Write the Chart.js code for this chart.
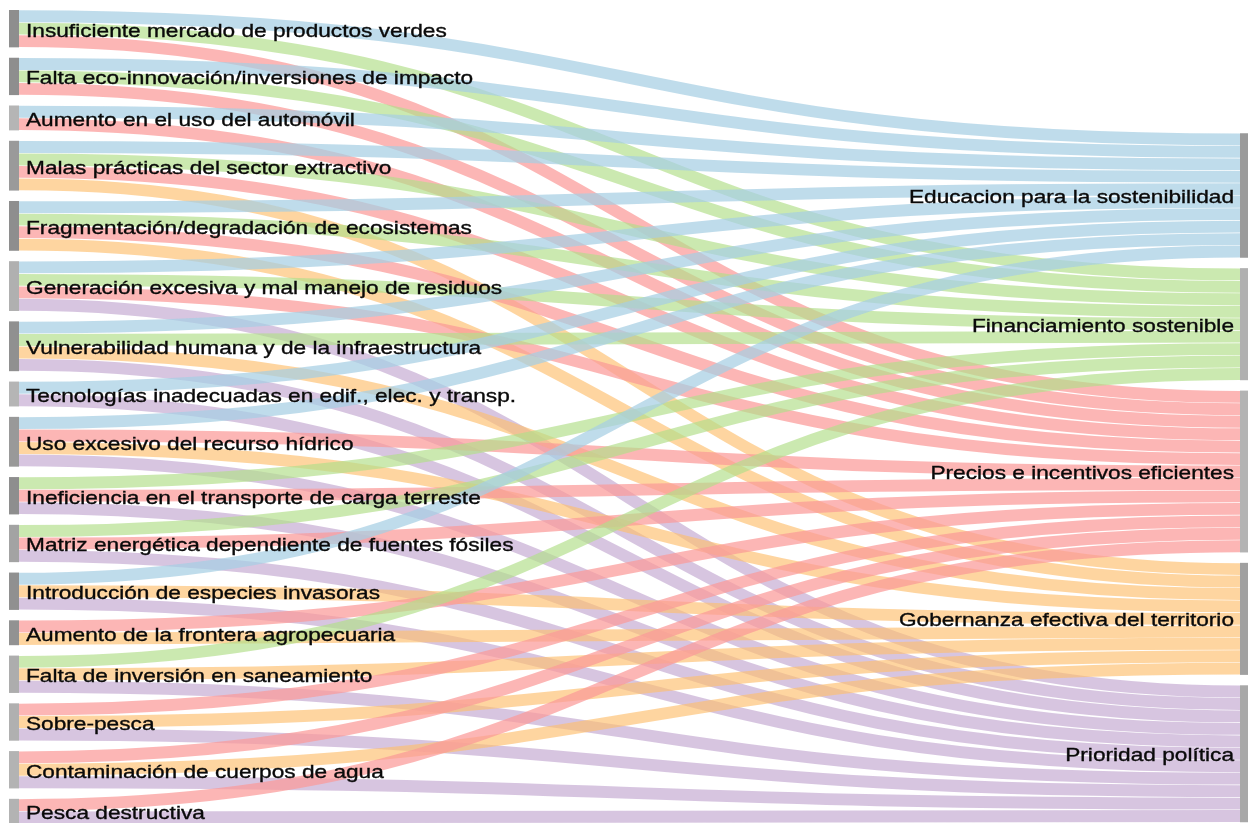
<!DOCTYPE html>
<html><head><meta charset="utf-8">
<script src="https://cdn.jsdelivr.net/npm/chart.js@4/dist/chart.umd.min.js"></script>
<style>html,body{margin:0;padding:0;background:#fff;overflow:hidden}</style>
</head><body>
<canvas id="c" width="1249" height="823"></canvas>
<script>
// ---- DATA ----
const problems = [
  "Insuficiente mercado de productos verdes",
  "Falta eco-innovación/inversiones de impacto",
  "Aumento en el uso del automóvil",
  "Malas prácticas del sector extractivo",
  "Fragmentación/degradación de ecosistemas",
  "Generación excesiva y mal manejo de residuos",
  "Vulnerabilidad humana y de la infraestructura",
  "Tecnologías inadecuadas en edif., elec. y transp.",
  "Uso excesivo del recurso hídrico",
  "Ineficiencia en el transporte de carga terreste",
  "Matriz energética dependiente de fuentes fósiles",
  "Introducción de especies invasoras",
  "Aumento de la frontera agropecuaria",
  "Falta de inversión en saneamiento",
  "Sobre-pesca",
  "Contaminación de cuerpos de agua",
  "Pesca destructiva"
];
const solutions = [
  "Educacion para la sostenibilidad",
  "Financiamiento sostenible",
  "Precios e incentivos eficientes",
  "Gobernanza efectiva del territorio",
  "Prioridad política"
];
// links: source problem index -> target solution index, value
const linkSource = [0,0,0, 1,1,1, 2,2, 3,3,3,3, 4,4,4,4, 5,5,5,5, 6,6,6,6, 7,7, 8,8,8,8, 9,9,9, 10,10,10, 11,11,11, 12,12, 13,13,13, 14,14,14, 15,15,15, 16,16];
const linkTarget = [0,1,2, 0,1,2, 0,2, 0,1,2,3, 0,1,2,3, 0,1,2,4, 0,1,3,4, 0,4, 0,2,3,4, 1,2,4, 1,2,4, 0,3,4, 2,3, 1,3,4, 2,3,4, 2,3,4, 2,4];
const linkValue  = [1,1,1, 1,1,1, 1,1, 1,1,1,1, 1,1,1,1, 1,1,1,1, 1,1,1,1, 1,1, 1,1,1,1, 1,1,1, 1,1,1, 1,1,1, 1,1, 1,1,1, 1,1,1, 1,1,1, 1,1];

// ---- STYLE ----
const targetColors = [
  'rgba(166,206,227,0.72)',
  'rgba(178,223,138,0.68)',
  'rgba(251,154,153,0.72)',
  'rgba(253,191,111,0.66)',
  'rgba(202,178,214,0.75)'
];
const leftShade = ['#8e8e8e','#8e8e8e','#b5b5b5','#9a9a9a','#8e8e8e','#b0b0b0','#909090','#b5b5b5','#999999','#8e8e8e','#a3a3a3','#909090','#929292','#adadad','#b0b0b0','#b3b3b3','#b3b3b3'];
const rightShade = ['#9a9a9a','#b0b0b0','#b3b3b3','#a0a0a0','#a8a8a8'];

const layout = {
  nodePadding: 0.835,   // in value units
  rightOffset: 9.9,     // in value units
  leftX: [9, 19],
  rightX: [1240, 1248],
  fontSize: 18.5,
  textScaleX: 1.225,
  labelGap: 7,
  baselineShift: 8
};

const sankeyPlugin = {
  id: 'sankeyDraw',
  afterDatasetsDraw(chart) {
    const ctx = chart.ctx;
    const xs = chart.scales.x, ys = chart.scales.y;
    const nL = problems.length, nR = solutions.length;
    const outV = new Array(nL).fill(0), inV = new Array(nR).fill(0);
    linkSource.forEach((s, k) => { outV[s] += linkValue[k]; inV[linkTarget[k]] += linkValue[k]; });
    const L0 = [], R0 = [];
    let cur = 0;
    for (let i = 0; i < nL; i++) { L0[i] = cur; cur += outV[i] + layout.nodePadding; }
    cur = layout.rightOffset;
    for (let j = 0; j < nR; j++) { R0[j] = cur; cur += inV[j] + layout.nodePadding; }
    const idx = linkSource.map((_, k) => k);
    const sy = [], ty = [];
    const srcCur = L0.slice(), tgtCur = R0.slice();
    idx.slice().sort((a, b) => linkSource[a] - linkSource[b] || linkTarget[a] - linkTarget[b])
      .forEach(k => { sy[k] = srcCur[linkSource[k]]; srcCur[linkSource[k]] += linkValue[k]; });
    idx.slice().sort((a, b) => linkTarget[a] - linkTarget[b] || linkSource[a] - linkSource[b])
      .forEach(k => { ty[k] = tgtCur[linkTarget[k]]; tgtCur[linkTarget[k]] += linkValue[k]; });

    const px0 = xs.getPixelForValue(layout.leftX[1]);
    const px1 = xs.getPixelForValue(layout.rightX[0]);
    const xm = (px0 + px1) / 2;
    ctx.save();
    ctx.lineCap = 'butt';
    idx.forEach(k => {
      const v = linkValue[k];
      const y0 = ys.getPixelForValue(sy[k] + v / 2);
      const y1 = ys.getPixelForValue(ty[k] + v / 2);
      const w = Math.abs(ys.getPixelForValue(v) - ys.getPixelForValue(0));
      ctx.strokeStyle = targetColors[linkTarget[k]];
      ctx.lineWidth = Math.max(1, w - 0.6);
      ctx.beginPath();
      ctx.moveTo(px0, y0);
      ctx.bezierCurveTo(xm, y0, xm, y1, px1, y1);
      ctx.stroke();
    });
    const lx0 = xs.getPixelForValue(layout.leftX[0]), lx1 = xs.getPixelForValue(layout.leftX[1]);
    const rx0 = xs.getPixelForValue(layout.rightX[0]), rx1 = xs.getPixelForValue(layout.rightX[1]);
    for (let i = 0; i < nL; i++) {
      const a = ys.getPixelForValue(L0[i]), b = ys.getPixelForValue(L0[i] + outV[i]);
      ctx.fillStyle = leftShade[i];
      ctx.fillRect(lx0, a, lx1 - lx0, b - a);
    }
    for (let j = 0; j < nR; j++) {
      const a = ys.getPixelForValue(R0[j]), b = ys.getPixelForValue(R0[j] + inV[j]);
      ctx.fillStyle = rightShade[j];
      ctx.fillRect(rx0, a, rx1 - rx0, b - a);
    }
    ctx.font = layout.fontSize + 'px "Liberation Sans", Arial, Helvetica, sans-serif';
    ctx.fillStyle = '#0a0a0a';
    ctx.strokeStyle = '#0a0a0a';
    ctx.lineWidth = 0.35;
    ctx.textBaseline = 'alphabetic';
    const sx = layout.textScaleX;
    const drawLabel = (txt, x, y, align) => {
      ctx.save();
      ctx.scale(sx, 1);
      ctx.textAlign = align;
      ctx.fillText(txt, x / sx, y);
      ctx.strokeText(txt, x / sx, y);
      ctx.restore();
    };
    for (let i = 0; i < nL; i++) {
      const c = ys.getPixelForValue(L0[i] + outV[i] / 2) + layout.baselineShift;
      drawLabel(problems[i], lx1 + layout.labelGap, c, 'left');
    }
    for (let j = 0; j < nR; j++) {
      const c = ys.getPixelForValue(R0[j] + inV[j] / 2) + layout.baselineShift - 0.5;
      drawLabel(solutions[j], rx0 - layout.labelGap + 1, c, 'right');
    }
    ctx.restore();
  }
};

const pxPerUnit = 12.45, topPx = 10;
const yMin = -topPx / pxPerUnit;
const yMax = yMin + 823 / pxPerUnit;

new Chart(document.getElementById('c'), {
  type: 'scatter',
  data: { datasets: [{ data: [], showLine: false }] },
  options: {
    responsive: false,
    animation: false,
    layout: { padding: 0 },
    plugins: { legend: { display: false }, tooltip: { enabled: false } },
    scales: {
      x: { type: 'linear', display: false, min: 0, max: 1249 },
      y: { type: 'linear', display: false, min: yMin, max: yMax, reverse: true }
    }
  },
  plugins: [sankeyPlugin]
});
</script>
</body></html>
